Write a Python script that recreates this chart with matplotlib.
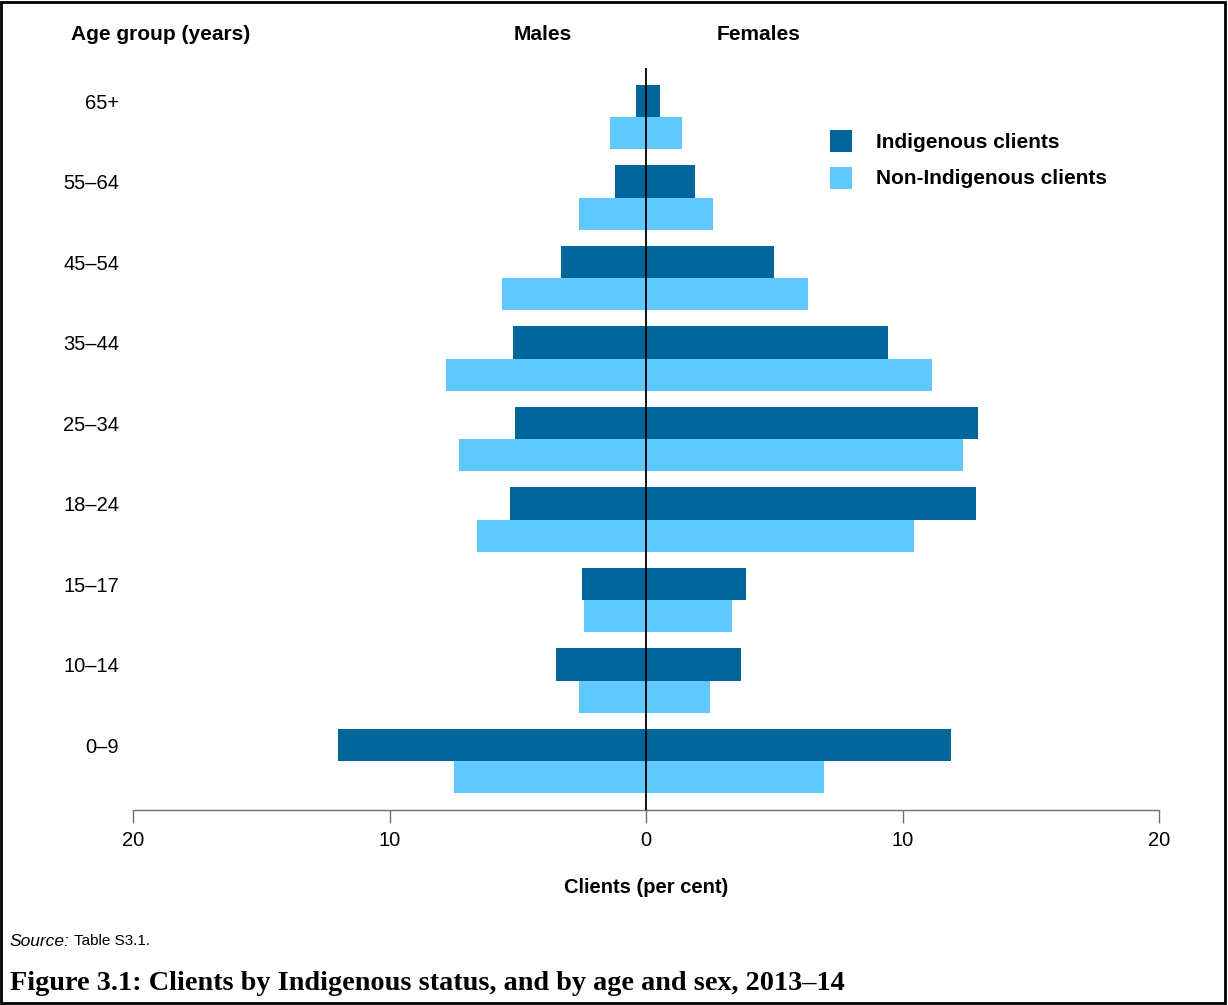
import matplotlib

matplotlib.use("Agg")
import matplotlib.pyplot as plt
from matplotlib.patches import Rectangle

plt.rcParams["font.family"] = ["Liberation Sans", "DejaVu Sans"]

# age groups, bottom to top
age_groups = ["0–9", "10–14", "15–17", "18–24", "25–34", "35–44", "45–54", "55–64", "65+"]

# per cent of clients
indig_males = [12.0, 3.5, 2.5, 5.3, 5.1, 5.2, 3.3, 1.2, 0.4]
indig_females = [11.9, 3.7, 3.9, 12.85, 12.95, 9.45, 5.0, 1.9, 0.55]
nonindig_males = [7.5, 2.6, 2.4, 6.6, 7.3, 7.8, 5.6, 2.6, 1.4]
nonindig_females = [6.95, 2.5, 3.35, 10.45, 12.35, 11.15, 6.3, 2.6, 1.4]

x_ticks = [-20, -10, 0, 10, 20]
x_tick_labels = ["20", "10", "0", "10", "20"]

legend_labels = ["Indigenous clients", "Non-Indigenous clients"]

DARK = "#00669a"
LIGHT = "#5fc9ff"

W, H = 1228, 1005
fig = plt.figure(figsize=(W / 100, H / 100), dpi=100)


def fx(px):
    return px / W


def fy(py):
    return 1 - py / H


ax = fig.add_axes([fx(133), fy(810), fx(1159) - fx(133), fy(68) - fy(810)])

ys = list(range(len(age_groups)))
bar_h = 0.4
ys_non = [y - bar_h for y in ys]

ax.barh(ys, [-v for v in indig_males], height=bar_h, color=DARK, linewidth=0)
ax.barh(ys, indig_females, height=bar_h, color=DARK, linewidth=0)
ax.barh(ys_non, [-v for v in nonindig_males], height=bar_h, color=LIGHT, linewidth=0)
ax.barh(ys_non, nonindig_females, height=bar_h, color=LIGHT, linewidth=0)

ax.axvline(0, color="black", linewidth=1.3, zorder=5)

ax.set_xlim(-20, 20)
ax.set_ylim(-0.807, 8.41)
ax.set_xticks(x_ticks)
ax.set_xticklabels(x_tick_labels, fontsize=14.5)
ax.set_yticks(ys)
ax.set_yticklabels(age_groups, fontsize=14.5, ha="right")
ax.tick_params(axis="y", length=0, pad=10)
ax.tick_params(axis="x", length=9, width=1, color="#707070", pad=6)

for side in ["top", "right", "left"]:
    ax.spines[side].set_visible(False)
ax.spines["bottom"].set_color("#707070")
ax.spines["bottom"].set_linewidth(1)

ax.set_xlabel("Clients (per cent)", fontsize=14.5, fontweight="bold", labelpad=20)

# column headers
fig.text(fx(71), fy(34), "Age group (years)", fontsize=15, fontweight="bold", va="center", ha="left")
fig.text(fx(572), fy(34), "Males", fontsize=15, fontweight="bold", va="center", ha="right")
fig.text(fx(717), fy(34), "Females", fontsize=15, fontweight="bold", va="center", ha="left")

# legend drawn by hand
for i, (label, colour) in enumerate(zip(legend_labels, [DARK, LIGHT])):
    top = 130 + i * 37
    fig.patches.append(
        Rectangle((fx(830), fy(top + 22)), fx(22), 22 / H,
                  transform=fig.transFigure, facecolor=colour, edgecolor="none")
    )
    fig.text(fx(876), fy(top + 12), label, fontsize=15, fontweight="bold", va="center", ha="left")

# source and caption
fig.text(fx(10), fy(941), "Source:", fontsize=12.5, style="italic", va="center", ha="left")
fig.text(fx(74), fy(941), "Table S3.1.", fontsize=11, va="center", ha="left")
fig.text(
    fx(10),
    fy(983),
    "Figure 3.1: Clients by Indigenous status, and by age and sex, 2013–14",
    fontsize=20.3,
    fontweight="bold",
    family=["Liberation Serif", "DejaVu Serif"],
    va="center",
    ha="left",
)

fig.patches.append(
    Rectangle((fx(1), fy(1003)), fx(1225) - fx(1), fy(2) - fy(1003),
              transform=fig.transFigure, fill=False, edgecolor="black", linewidth=2)
)

fig.savefig("out.png", dpi=100)
